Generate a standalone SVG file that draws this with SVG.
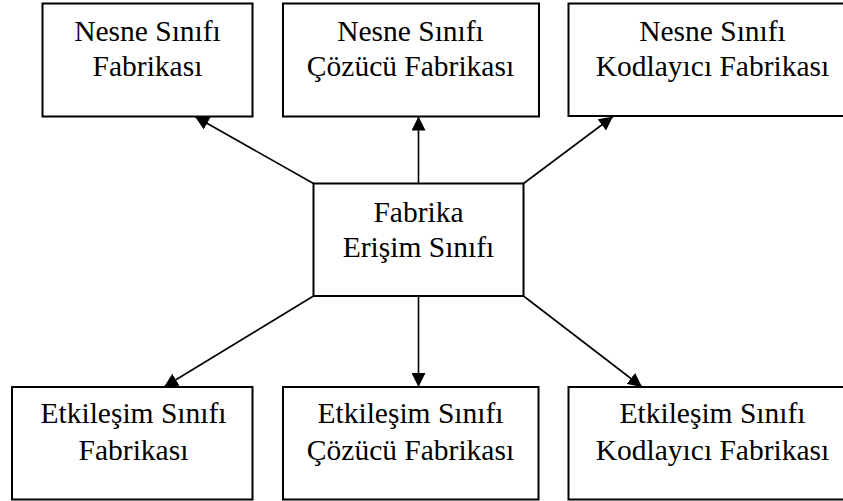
<svg xmlns="http://www.w3.org/2000/svg" width="843" height="501" viewBox="0 0 843 501">
  <style>
    .box { fill: #ffffff; stroke: #000000; stroke-width: 2; }
    .lbl { font-size: 29.5px; fill: #000000; text-anchor: middle; }
    .edge { stroke: #000000; stroke-width: 1.6; fill: none; marker-end: url(#head); }
  </style>
  <defs>
    <marker id="head" viewBox="0 0 14 14" refX="14" refY="7" markerWidth="14" markerHeight="14" markerUnits="userSpaceOnUse" orient="auto">
      <path d="M0,0 L14,7 L0,14 Z" fill="#000000"/>
    </marker>
  </defs>
  <rect width="843" height="501" fill="#ffffff"/>

  <!-- connectors from the access class to each factory -->
  <g id="connectors">
    <line class="edge" x1="313.5" y1="183.5" x2="195" y2="116.5"/>
    <line class="edge" x1="418.5" y1="183.5" x2="418.5" y2="116.5"/>
    <line class="edge" x1="523.5" y1="183.5" x2="613" y2="116.5"/>
    <line class="edge" x1="313.5" y1="296" x2="164" y2="387"/>
    <line class="edge" x1="418.5" y1="296" x2="418.5" y2="387"/>
    <line class="edge" x1="523.5" y1="296" x2="642" y2="387"/>
  </g>

  <g font-family="Liberation Serif, DejaVu Serif, serif">
  <g id="nesne-fabrika">
    <rect class="box" x="42.5" y="3.5" width="210" height="113"/>
    <text class="lbl" x="147.5" y="40.7">Nesne Sınıfı</text>
    <text class="lbl" x="147.5" y="76">Fabrikası</text>
  </g>
  <g id="nesne-cozucu">
    <rect class="box" x="283" y="3.5" width="256" height="113"/>
    <text class="lbl" x="410.5" y="40.7">Nesne Sınıfı</text>
    <text class="lbl" x="410.5" y="76">Çözücü Fabrikası</text>
  </g>
  <g id="nesne-kodlayici">
    <rect class="box" x="568.5" y="3.5" width="290" height="112.5"/>
    <text class="lbl" x="712.5" y="40.7">Nesne Sınıfı</text>
    <text class="lbl" x="712.5" y="76">Kodlayıcı Fabrikası</text>
  </g>

  <g id="fabrika-erisim">
    <rect class="box" x="313.5" y="183.5" width="210" height="112.5"/>
    <text class="lbl" x="418.5" y="221.7">Fabrika</text>
    <text class="lbl" x="418.5" y="256.7">Erişim Sınıfı</text>
  </g>

  <g id="etkilesim-fabrika">
    <rect class="box" x="12" y="387" width="240.5" height="112.5"/>
    <text class="lbl" x="133.5" y="423.3">Etkileşim Sınıfı</text>
    <text class="lbl" x="133.5" y="459.5">Fabrikası</text>
  </g>
  <g id="etkilesim-cozucu">
    <rect class="box" x="283" y="387" width="255.5" height="112.5"/>
    <text class="lbl" x="410.5" y="423.3">Etkileşim Sınıfı</text>
    <text class="lbl" x="410.5" y="459.5">Çözücü Fabrikası</text>
  </g>
  <g id="etkilesim-kodlayici">
    <rect class="box" x="568.5" y="387" width="290" height="112.5"/>
    <text class="lbl" x="712.5" y="423.3">Etkileşim Sınıfı</text>
    <text class="lbl" x="712.5" y="459.5">Kodlayıcı Fabrikası</text>
  </g>
  </g>
</svg>
